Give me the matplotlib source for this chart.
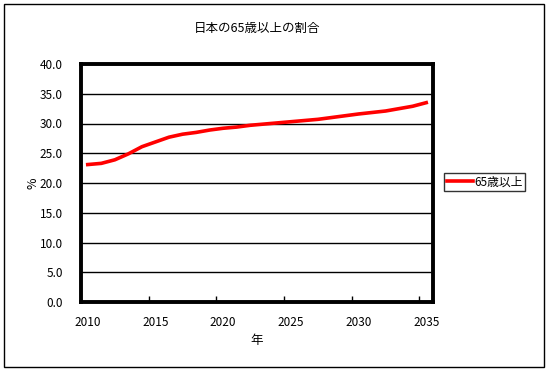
import matplotlib
matplotlib.use("Agg")
import matplotlib.pyplot as plt
from matplotlib.patches import Rectangle
from matplotlib.ticker import MultipleLocator, FixedLocator

plt.rcParams['font.family'] = ['Noto Sans CJK JP', 'DejaVu Sans']

# data
years = list(range(2010, 2036))
share_65 = [23.1, 23.3, 23.9, 24.9, 26.1, 26.9, 27.7, 28.2, 28.5, 28.9,
            29.2, 29.4, 29.7, 29.9, 30.1, 30.3, 30.5, 30.7, 31.0, 31.3,
            31.6, 31.85, 32.1, 32.5, 32.9, 33.5]
label_years = [2010, 2015, 2020, 2025, 2030, 2035]

fig = plt.figure(figsize=(5.49, 3.73), dpi=100)
ax = fig.add_axes([81 / 549, 71 / 373, 352 / 549, 238 / 373])

ax.plot(years, share_65, color='#ff0000', lw=2.6, label='65歳以上',
        solid_joinstyle='round')

ax.set_xlim(2009.5, 2035.5)
ax.set_ylim(0, 40)

# category-style axis: ticks on boundaries, labels on category centres
ax.xaxis.set_major_locator(FixedLocator(label_years))
ax.xaxis.set_minor_locator(FixedLocator([y - 0.5 for y in label_years[1:]]))
ax.tick_params(axis='x', which='major', length=0, pad=10, labelsize=8.5)
ax.tick_params(axis='x', which='minor', direction='in', length=4, width=1, color='black')
ax.yaxis.set_major_locator(MultipleLocator(5))
ax.set_yticklabels([f'{v:.1f}' for v in ax.get_yticks()])
ax.tick_params(axis='y', length=0, pad=13, labelsize=8.5)

ax.grid(axis='y', color='black', lw=1)
ax.set_axisbelow(True)
for s in ax.spines.values():
    s.set_linewidth(2.8)
    s.set_color('black')

ax.set_title('日本の65歳以上の割合', fontsize=9, pad=23)
ax.set_xlabel('年', fontsize=9, labelpad=4)
ax.set_ylabel('%', fontsize=9, labelpad=0)

leg = ax.legend(loc='center left', bbox_to_anchor=(444 / 549, 191 / 373),
                bbox_transform=fig.transFigure, frameon=True, fancybox=False,
                edgecolor='black', fontsize=8.5, handlelength=2.2,
                handletextpad=0.1, borderpad=0.25, borderaxespad=0)
leg.get_frame().set_linewidth(1)

fig.patches.append(Rectangle((4 / 549, 6 / 373), 540 / 549, 363 / 373,
                             transform=fig.transFigure, fill=False,
                             edgecolor='black', lw=1))

fig.savefig('out.png', dpi=100)
